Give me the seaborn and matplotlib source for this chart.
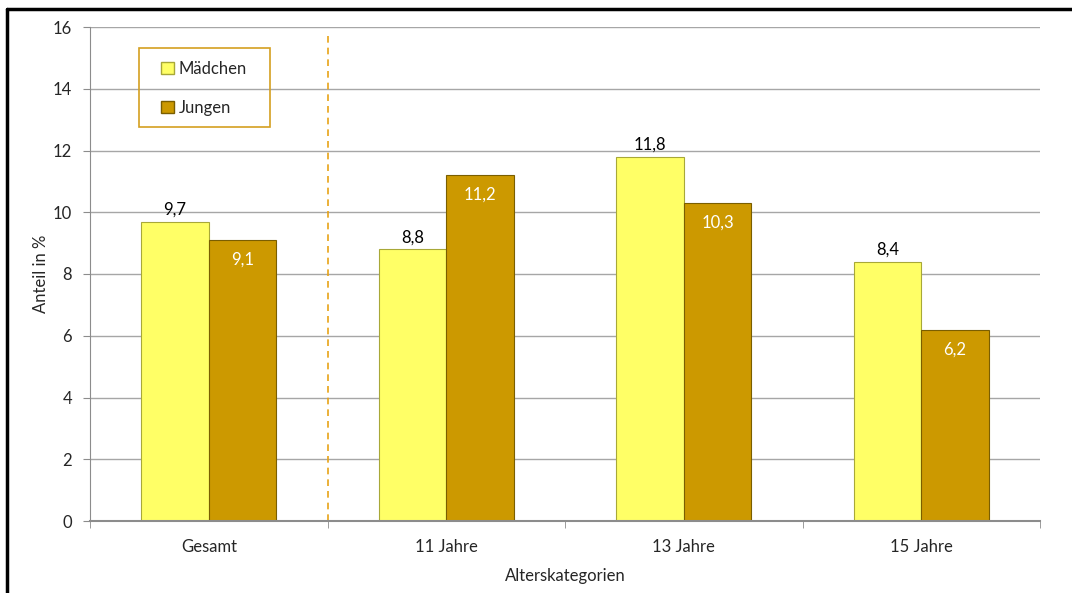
import pandas as pd
import matplotlib
matplotlib.use("Agg")
import matplotlib.pyplot as plt
import seaborn as sns
from matplotlib.lines import Line2D
from matplotlib.patches import Rectangle

# Daten
kategorien = ["Gesamt", "11 Jahre", "13 Jahre", "15 Jahre"]
maedchen = [9.7, 8.8, 11.8, 8.4]
jungen = [9.1, 11.2, 10.3, 6.2]
y_ticks = [0, 2, 4, 6, 8, 10, 12, 14, 16]

df = pd.DataFrame({
    "Alterskategorien": kategorien * 2,
    "Anteil": maedchen + jungen,
    "Geschlecht": ["Mädchen"] * len(kategorien) + ["Jungen"] * len(kategorien),
})

sns.set_style("white")
plt.rcParams["font.family"] = ["Lato", "DejaVu Sans"]
fs = 12

W, H = 1072, 593
fig = plt.figure(figsize=(W / 100, H / 100), dpi=100)
ax = fig.add_axes([90 / W, 1 - 521 / H, 950 / W, 494 / H])

farben = {"Mädchen": "#FFFF66", "Jungen": "#CC9900"}
kanten = {"Mädchen": "#A8A838", "Jungen": "#7A5E00"}

sns.barplot(data=df, x="Alterskategorien", y="Anteil", hue="Geschlecht",
            palette=farben, width=0.57, ax=ax, legend=False,
            linewidth=0.8, saturation=1)

for container, name in zip(ax.containers, ["Mädchen", "Jungen"]):
    for p in container:
        p.set_edgecolor(kanten[name])
    werte = maedchen if name == "Mädchen" else jungen
    labels = [f"{v:.1f}".replace(".", ",") for v in werte]
    if name == "Mädchen":
        ax.bar_label(container, labels=labels, padding=3, fontsize=fs, color="black")
    else:
        ax.bar_label(container, labels=labels, padding=-20, fontsize=fs, color="white")

ax.set_xlim(-0.5, 3.5)
ax.set_ylim(0, 16)
ax.set_yticks(y_ticks)
ax.set_yticklabels([str(t) for t in y_ticks], fontsize=fs)
ax.tick_params(axis="x", length=0, labelsize=fs, pad=13)
ax.tick_params(axis="y", length=5, color="#8c8c8c", pad=8, left=True)

# kleine Trennstriche zwischen Kategorien
ax.set_xticks([-0.5, 0.5, 1.5, 2.5, 3.5], minor=True)
ax.tick_params(axis="x", which="minor", length=5, color="#8c8c8c", bottom=True, direction="out")

ax.yaxis.grid(True, color="#a6a6a6", linewidth=1)
ax.set_axisbelow(True)
for s in ["top", "right"]:
    ax.spines[s].set_visible(False)
ax.spines["left"].set_color("#8c8c8c")
ax.spines["bottom"].set_color("#8c8c8c")
ax.spines["bottom"].set_linewidth(1.5)

ax.axvline(0.5, ymin=0, ymax=15.7 / 16, color="#E8A317", linestyle=(0, (4, 3)), linewidth=1.2)

ax.set_xlabel("Alterskategorien", fontsize=fs, labelpad=9)
ax.set_ylabel("Anteil in %", fontsize=fs, labelpad=3)

# Legende mit eigenem Rahmen
handles = [Rectangle((0, 0), 1, 1, facecolor=farben[n], edgecolor=kanten[n]) for n in ["Mädchen", "Jungen"]]
leg = fig.legend(handles, ["Mädchen", "Jungen"], loc="upper left",
                 bbox_to_anchor=(161 / W, 1 - 61 / H), fontsize=fs,
                 frameon=False, handlelength=0.75, handleheight=0.75,
                 handletextpad=0.3, labelspacing=1.35, borderpad=0, borderaxespad=0)
fig.add_artist(Rectangle((139 / W, 1 - 127 / H), 131 / W, 79 / H, transform=fig.transFigure,
                         facecolor="none", edgecolor="#D4A020", linewidth=1.2))

# Rahmen links und oben
fig.add_artist(Line2D([7 / W, 7 / W], [0, 1 - 9 / H], color="black", linewidth=2.5, transform=fig.transFigure))
fig.add_artist(Line2D([7 / W, 1], [1 - 9 / H, 1 - 9 / H], color="black", linewidth=2.5, transform=fig.transFigure))

fig.savefig("out.png", dpi=100)
